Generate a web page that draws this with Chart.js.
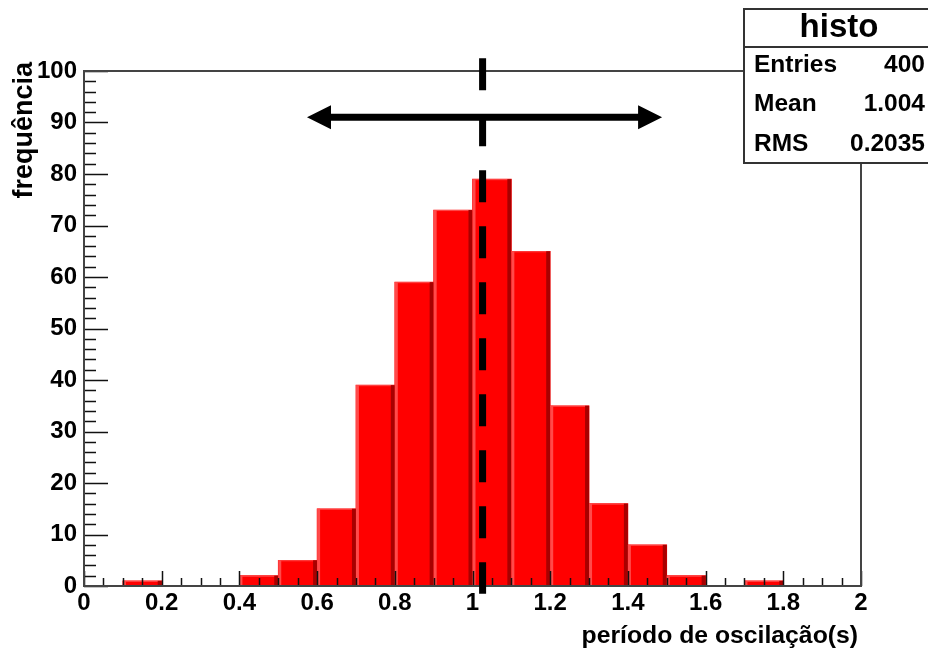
<!DOCTYPE html>
<html>
<head>
<meta charset="utf-8">
<script src="https://cdn.jsdelivr.net/npm/chart.js@4/dist/chart.umd.min.js"></script>
<style>
  html, body { margin: 0; padding: 0; background: #fff; }
  #wrap { width: 928px; height: 651px; }
</style>
</head>
<body>
<div id="wrap"><canvas id="histoChart" width="928" height="651"></canvas></div>
<script>
// histogram bins (centres, width 0.1) and counts
const binCenters = [0.05, 0.15, 0.25, 0.35, 0.45, 0.55, 0.65, 0.75, 0.85, 0.95,
                    1.05, 1.15, 1.25, 1.35, 1.45, 1.55, 1.65, 1.75, 1.85, 1.95];
const counts = [0, 1, 0, 0, 2, 5, 15, 39, 59, 73, 79, 65, 35, 16, 8, 2, 0, 1, 0, 0];

// axis ranges / ticks
const xRange = [0, 2];
const yRange = [0, 100];
const xMajorStep = 0.2, xMinorStep = 0.05;
const yMajorStep = 10, yMinorStep = 2;

// stats box
const statsTitle = 'histo';
const statsLabels = ['Entries', 'Mean', 'RMS'];
const statsValues = ['400', '1.004', '0.2035'];

// annotations drawn on top (data coords)
const meanLineX = 1.026;
const meanLineY = [-1.5, 102.5];
const arrowX = [0.574, 1.488];
const arrowY = 91;

const xTitle = 'período de oscilação(s)';
const yTitle = 'frequência';

const FONT = '"Liberation Sans", Arial, sans-serif';

// draws the ROOT-like bar shading, the frame with inward ticks, the lines and the stats box
const rootStyle = {
    id: 'rootStyle',
    afterDatasetsDraw(chart) {
        const ctx = chart.ctx;
        const meta = chart.getDatasetMeta(0);
        ctx.save();
        meta.data.forEach(function(bar, i) {
            if (!counts[i]) return;
            const p = bar.getProps(['x', 'y', 'base', 'width'], true);
            const left = p.x - p.width / 2;
            const h = p.base - p.y;
            ctx.fillStyle = '#ff4a4a';
            ctx.fillRect(left, p.y, 3, h);
            ctx.fillRect(left, p.y, p.width, 1);
            ctx.fillStyle = '#a80000';
            ctx.fillRect(left + p.width - 4, p.y, 4, h);
        });
        ctx.restore();
    },
    afterDraw(chart) {
        const ctx = chart.ctx;
        const xs = chart.scales.x, ys = chart.scales.y;
        const a = chart.chartArea;
        ctx.save();

        // ticks inside the frame
        ctx.strokeStyle = '#111';
        ctx.lineWidth = 1.5;
        ctx.beginPath();
        for (let k = 0; k <= Math.round((xRange[1] - xRange[0]) / xMinorStep); k++) {
            const v = xRange[0] + k * xMinorStep;
            const px = Math.round(xs.getPixelForValue(v)) + 0.5;
            const major = k % Math.round(xMajorStep / xMinorStep) === 0;
            ctx.moveTo(px, a.bottom);
            ctx.lineTo(px, a.bottom - (major ? 15 : 8));
        }
        for (let k = 0; k <= Math.round((yRange[1] - yRange[0]) / yMinorStep); k++) {
            const v = yRange[0] + k * yMinorStep;
            const py = Math.round(ys.getPixelForValue(v)) + 0.5;
            const major = k % Math.round(yMajorStep / yMinorStep) === 0;
            ctx.moveTo(a.left, py);
            ctx.lineTo(a.left + (major ? 24 : 12), py);
        }
        ctx.stroke();

        // frame
        ctx.strokeStyle = '#444';
        ctx.lineWidth = 2;
        ctx.strokeRect(a.left, a.top, a.right - a.left, a.bottom - a.top);

        // dashed mean line
        ctx.strokeStyle = '#000';
        ctx.lineWidth = 7;
        ctx.setLineDash([32, 24]);
        ctx.beginPath();
        ctx.moveTo(xs.getPixelForValue(meanLineX), ys.getPixelForValue(meanLineY[1]));
        ctx.lineTo(xs.getPixelForValue(meanLineX), ys.getPixelForValue(meanLineY[0]));
        ctx.stroke();
        ctx.setLineDash([]);

        // double arrow
        const ax1 = xs.getPixelForValue(arrowX[0]);
        const ax2 = xs.getPixelForValue(arrowX[1]);
        const ay = ys.getPixelForValue(arrowY);
        const head = 24, half = 12;
        ctx.beginPath();
        ctx.moveTo(ax1 + head - 2, ay);
        ctx.lineTo(ax2 - head + 2, ay);
        ctx.stroke();
        ctx.fillStyle = '#000';
        ctx.beginPath();
        ctx.moveTo(ax1, ay);
        ctx.lineTo(ax1 + head, ay - half);
        ctx.lineTo(ax1 + head, ay + half);
        ctx.closePath();
        ctx.moveTo(ax2, ay);
        ctx.lineTo(ax2 - head, ay - half);
        ctx.lineTo(ax2 - head, ay + half);
        ctx.closePath();
        ctx.fill();

        // stats box
        ctx.fillStyle = '#fff';
        ctx.fillRect(744, 9, 200, 154);
        ctx.strokeStyle = '#333';
        ctx.lineWidth = 2;
        ctx.strokeRect(744, 9, 200, 154);
        ctx.beginPath();
        ctx.moveTo(744, 47);
        ctx.lineTo(944, 47);
        ctx.stroke();
        ctx.fillStyle = '#000';
        ctx.textBaseline = 'middle';
        ctx.textAlign = 'center';
        ctx.font = 'bold 33px ' + FONT;
        ctx.fillText(statsTitle, 839, 28);
        ctx.font = 'bold 24.5px ' + FONT;
        statsLabels.forEach(function(lab, i) {
            const ty = 65 + i * 39.5;
            ctx.textAlign = 'left';
            ctx.fillText(lab, 754, ty);
            ctx.textAlign = 'right';
            ctx.fillText(statsValues[i], 925, ty);
        });

        // axis titles
        ctx.font = 'bold 24.75px ' + FONT;
        ctx.textAlign = 'right';
        ctx.fillText(xTitle, 858, 636);
        ctx.font = 'bold 27px ' + FONT;
        ctx.translate(25, 62);
        ctx.rotate(-Math.PI / 2);
        ctx.fillText(yTitle, 0, 0);
        ctx.restore();
    }
};

const histoCtx = document.getElementById('histoChart').getContext('2d');
new Chart(histoCtx, {
    type: 'bar',
    data: {
        datasets: [{
            label: statsTitle,
            data: binCenters.map(function(c, i) { return { x: c, y: counts[i] }; }),
            backgroundColor: '#ff0000',
            borderWidth: 0,
            barPercentage: 1,
            categoryPercentage: 1
        }]
    },
    options: {
        responsive: false,
        animation: false,
        devicePixelRatio: 1,
        layout: { padding: { top: 71, right: 67, left: 0, bottom: 0 } },
        plugins: {
            legend: { display: false },
            tooltip: { enabled: false }
        },
        scales: {
            x: {
                type: 'linear',
                offset: false,
                min: xRange[0],
                max: xRange[1],
                grid: { display: false, drawTicks: false },
                border: { display: false },
                ticks: {
                    stepSize: xMajorStep,
                    color: '#000',
                    padding: 3,
                    maxRotation: 0,
                    autoSkip: false,
                    font: { family: FONT, size: 24, weight: 'bold' },
                    callback: function(v) { return String(Number(v.toFixed(2))); }
                },
                afterFit: function(scale) { scale.height = 65; }
            },
            y: {
                min: yRange[0],
                max: yRange[1],
                grid: { display: false, drawTicks: false },
                border: { display: false },
                ticks: {
                    stepSize: yMajorStep,
                    color: '#000',
                    padding: 7,
                    font: { family: FONT, size: 24, weight: 'bold' }
                },
                afterFit: function(scale) { scale.width = 84; }
            }
        }
    },
    plugins: [rootStyle]
});
</script>
</body>
</html>
